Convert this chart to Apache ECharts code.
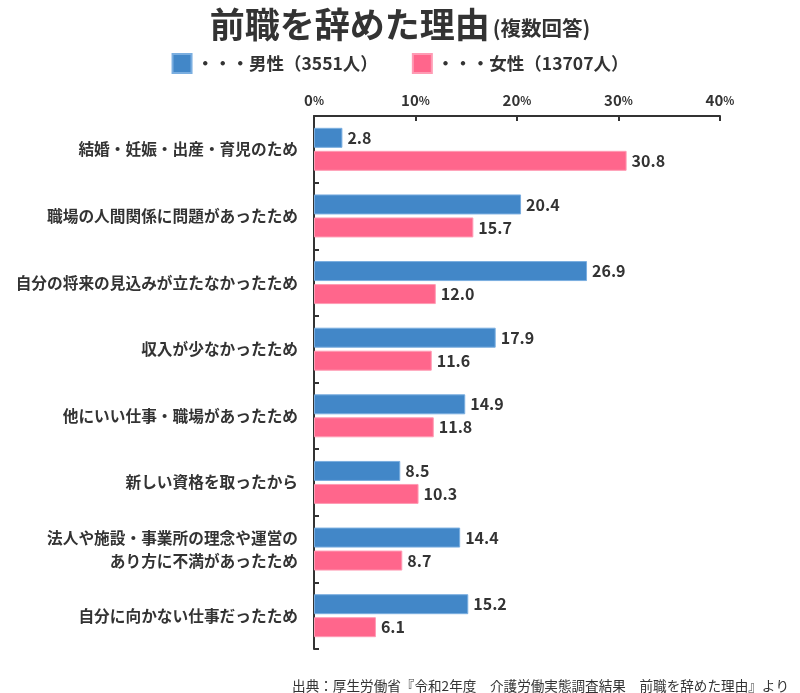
<!DOCTYPE html>
<html><head><meta charset="utf-8">
<script src="https://cdn.jsdelivr.net/npm/echarts@6/dist/echarts.min.js"></script>
<style>html,body{margin:0;padding:0;background:#fff}#c{width:800px;height:693px}</style>
</head><body><div id="c"></div>
<script>
const categories = [
  '結婚・妊娠・出産・育児のため',
  '職場の人間関係に問題があったため',
  '自分の将来の見込みが立たなかったため',
  '収入が少なかったため',
  '他にいい仕事・職場があったため',
  '新しい資格を取ったから',
  '法人や施設・事業所の理念や運営の\nあり方に不満があったため',
  '自分に向かない仕事だったため'
];
const maleValues = [2.8, 20.4, 26.9, 17.9, 14.9, 8.5, 14.4, 15.2];
const femaleValues = [30.8, 15.7, 12.0, 11.6, 11.8, 10.3, 8.7, 6.1];
const maleName = '・・・男性（3551人）';
const femaleName = '・・・女性（13707人）';
const xTicks = [0, 10, 20, 30, 40];

const FONT = '"Noto Sans CJK JP", "Noto Sans", sans-serif';
const chart = echarts.init(document.getElementById('c'));
const labelCfg = {
  show: true, position: 'right', distance: 5,
  color: '#333', fontSize: 16, fontWeight: 'bold', fontFamily: FONT,
  formatter: p => p.value.toFixed(1)
};
chart.setOption({
  animation: false,
  textStyle: { fontFamily: FONT },
  title: [{
    text: '{a|前職を辞めた理由}{b|(複数回答)}',
    left: 'center', top: 2,
    textStyle: {
      rich: {
        a: { fontSize: 35, fontWeight: 'bold', color: '#333', fontFamily: FONT },
        b: { fontSize: 20.5, fontWeight: 'bold', color: '#333', fontFamily: FONT, padding: [8, 0, 0, 3] }
      }
    }
  }, {
    text: '出典：厚生労働省『令和2年度　介護労働実態調査結果　前職を辞めた理由』より',
    right: 6, top: 674,
    textStyle: { fontSize: 13.6, fontWeight: 'normal', color: '#333', fontFamily: FONT }
  }],
  legend: {
    top: 48, left: 'center', itemGap: 34,
    itemWidth: 19, itemHeight: 19, icon: 'rect',
    textStyle: { fontSize: 17.5, fontWeight: 'bold', color: '#333', fontFamily: FONT, padding: [0, 0, 0, 0] },
    data: [maleName, femaleName]
  },
  grid: { left: 314, right: 80, top: 116, bottom: 44, containLabel: false },
  xAxis: {
    type: 'value', position: 'top', min: 0, max: 40, interval: 10,
    axisLine: { show: true, lineStyle: { color: '#333', width: 2 } },
    axisTick: { show: true, inside: true, length: 5, lineStyle: { color: '#333', width: 2 } },
    splitLine: { show: false },
    axisLabel: {
      margin: 8,
      formatter: v => xTicks.includes(v) ? '{n|' + v + '}{p|%}' : '',
      rich: {
        n: { fontSize: 15, fontWeight: 'bold', color: '#333', fontFamily: FONT },
        p: { fontSize: 11.5, fontWeight: 'bold', color: '#333', fontFamily: FONT }
      }
    }
  },
  yAxis: {
    type: 'category', inverse: true, data: categories,
    axisLine: { show: true, lineStyle: { color: '#333', width: 2 } },
    axisTick: { show: true, inside: true, length: 5, lineStyle: { color: '#333', width: 2 } },
    axisLabel: { margin: 16, fontSize: 15.7, fontWeight: 'bold', color: '#333', fontFamily: FONT, lineHeight: 23, align: 'right' }
  },
  series: [{
    name: maleName, type: 'bar', data: maleValues, barWidth: 20, barGap: '15%',
    itemStyle: { color: '#4287c8', borderColor: '#7aaee0', borderWidth: 1 },
    label: labelCfg
  }, {
    name: femaleName, type: 'bar', data: femaleValues, barWidth: 20, barGap: '15%',
    itemStyle: { color: '#ff668c', borderColor: '#ff9bb4', borderWidth: 1 },
    label: labelCfg
  }]
});
</script></body></html>
